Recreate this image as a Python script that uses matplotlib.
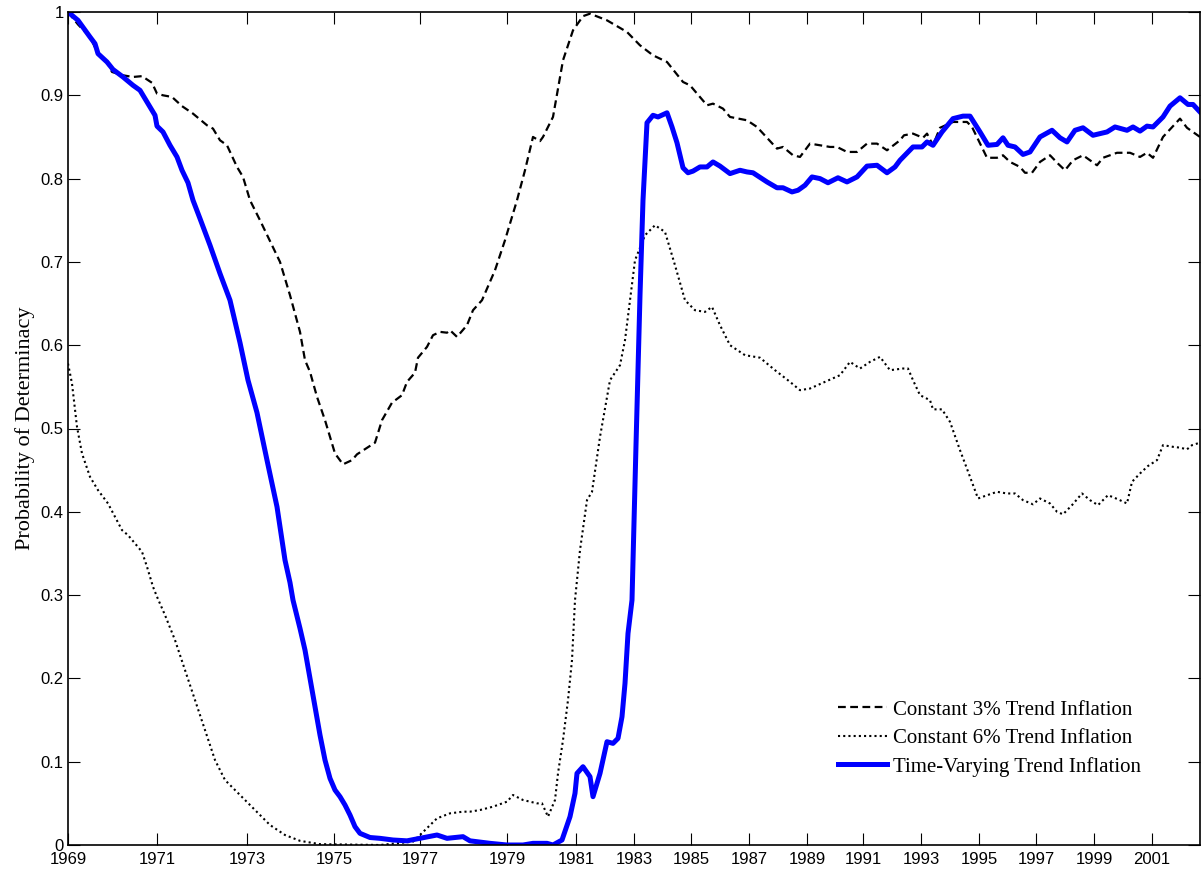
import numpy as np
import matplotlib
matplotlib.use("Agg")
import matplotlib.pyplot as plt

# observation position (sample index scale) and tick labels
tick_pos = [0, 89, 179, 266, 352, 439, 508, 566, 623, 681, 739, 795, 853, 911, 968, 1026, 1084]
tick_labels = ["1969", "1971", "1973", "1975", "1977", "1979", "1981", "1983", "1985",
               "1987", "1989", "1991", "1993", "1995", "1997", "1999", "2001"]
x_max = 1132

# Constant 3% trend inflation (dashed): (observation, probability)
obs_3pct = [
    (0, 1.0), (10, 0.985), (22, 0.97), (30, 0.95), (39, 0.94), (44, 0.928), (55, 0.924),
    (65, 0.922), (74, 0.923), (84, 0.915), (89, 0.902), (95, 0.9), (104, 0.898), (114, 0.887),
    (125, 0.878), (139, 0.864), (145, 0.86), (152, 0.846), (159, 0.84), (169, 0.814),
    (175, 0.802), (182, 0.774), (192, 0.75), (202, 0.725), (212, 0.7), (222, 0.66),
    (232, 0.616), (237, 0.582), (242, 0.568), (249, 0.538), (257, 0.51), (262, 0.49),
    (267, 0.47), (275, 0.457), (284, 0.462), (289, 0.469), (307, 0.483), (314, 0.51),
    (324, 0.531), (334, 0.54), (339, 0.556), (347, 0.567), (350, 0.585), (359, 0.598),
    (365, 0.612), (372, 0.616), (379, 0.615), (382, 0.618), (389, 0.61), (399, 0.624),
    (405, 0.642), (414, 0.654), (427, 0.69), (437, 0.726), (449, 0.774), (457, 0.81),
    (465, 0.85), (472, 0.845), (475, 0.85), (485, 0.874), (495, 0.942), (505, 0.978),
    (515, 0.995), (522, 0.998), (539, 0.99), (559, 0.976), (572, 0.96), (585, 0.948),
    (599, 0.94), (615, 0.916), (622, 0.912), (639, 0.888), (645, 0.89), (655, 0.884),
    (662, 0.874), (679, 0.87), (689, 0.862), (699, 0.849), (709, 0.836), (715, 0.838),
    (725, 0.828), (732, 0.826), (742, 0.842), (752, 0.84), (762, 0.838), (769, 0.838),
    (779, 0.832), (789, 0.832), (799, 0.842), (809, 0.842), (819, 0.834), (832, 0.846),
    (836, 0.852), (845, 0.854), (855, 0.849), (859, 0.854), (865, 0.84), (872, 0.861),
    (885, 0.868), (899, 0.868), (904, 0.862), (919, 0.825), (929, 0.825), (935, 0.828),
    (942, 0.82), (952, 0.814), (957, 0.807), (964, 0.807), (972, 0.82), (982, 0.828),
    (990, 0.818), (997, 0.81), (1005, 0.822), (1015, 0.828), (1029, 0.816), (1035, 0.825),
    (1049, 0.831), (1062, 0.831), (1072, 0.826), (1079, 0.831), (1085, 0.825), (1095, 0.85),
    (1112, 0.872), (1119, 0.861), (1132, 0.85)]

# Constant 6% trend inflation (dotted)
obs_6pct = [
    (0, 0.578), (4, 0.554), (9, 0.502), (14, 0.47), (22, 0.442), (30, 0.426), (40, 0.41),
    (47, 0.394), (54, 0.378), (60, 0.372), (67, 0.362), (74, 0.352), (79, 0.334), (85, 0.31),
    (89, 0.298), (97, 0.276), (107, 0.246), (117, 0.21), (127, 0.174), (137, 0.138),
    (147, 0.102), (157, 0.078), (172, 0.06), (187, 0.042), (202, 0.024), (217, 0.012),
    (232, 0.005), (252, 0.001), (312, 0.0), (345, 0.004), (352, 0.012), (369, 0.032),
    (382, 0.038), (395, 0.04), (402, 0.04), (412, 0.042), (425, 0.046), (439, 0.052),
    (445, 0.06), (455, 0.054), (469, 0.05), (474, 0.05), (480, 0.034), (487, 0.054),
    (490, 0.086), (495, 0.126), (500, 0.174), (504, 0.222), (507, 0.294), (512, 0.354),
    (519, 0.414), (524, 0.424), (532, 0.49), (542, 0.558), (552, 0.576), (557, 0.606),
    (562, 0.654), (567, 0.702), (577, 0.732), (587, 0.744), (597, 0.736), (607, 0.696),
    (617, 0.654), (627, 0.642), (637, 0.64), (644, 0.646), (652, 0.624), (662, 0.6),
    (677, 0.588), (692, 0.585), (707, 0.57), (722, 0.556), (732, 0.546), (742, 0.548),
    (757, 0.556), (772, 0.564), (782, 0.58), (792, 0.572), (802, 0.58), (812, 0.586),
    (822, 0.57), (835, 0.572), (840, 0.572), (845, 0.558), (852, 0.54), (862, 0.534),
    (865, 0.523), (874, 0.523), (882, 0.508), (892, 0.474), (902, 0.442), (910, 0.416),
    (917, 0.419), (929, 0.424), (939, 0.422), (947, 0.422), (955, 0.414), (965, 0.409),
    (972, 0.416), (982, 0.41), (989, 0.4), (995, 0.397), (1004, 0.408), (1014, 0.422),
    (1022, 0.414), (1030, 0.408), (1040, 0.42), (1050, 0.415), (1059, 0.41), (1064, 0.436),
    (1072, 0.446), (1080, 0.455), (1089, 0.462), (1095, 0.48), (1105, 0.478), (1112, 0.477),
    (1119, 0.475), (1124, 0.48), (1132, 0.483)]

# Time-varying trend inflation (solid blue)
obs_tv = [
    (0, 1.0), (10, 0.99), (22, 0.97), (27, 0.962), (30, 0.95), (39, 0.94), (45, 0.931),
    (55, 0.922), (65, 0.912), (72, 0.906), (80, 0.89), (87, 0.876), (89, 0.863), (95, 0.856),
    (102, 0.84), (109, 0.826), (114, 0.81), (120, 0.795), (125, 0.774), (132, 0.752),
    (142, 0.72), (152, 0.686), (162, 0.654), (172, 0.603), (180, 0.558), (189, 0.519),
    (199, 0.462), (209, 0.406), (217, 0.342), (222, 0.315), (225, 0.294), (232, 0.26),
    (237, 0.234), (242, 0.2), (247, 0.166), (252, 0.132), (257, 0.102), (262, 0.08),
    (267, 0.066), (272, 0.058), (277, 0.048), (282, 0.036), (287, 0.022), (292, 0.014),
    (302, 0.009), (312, 0.008), (325, 0.006), (339, 0.005), (352, 0.008), (369, 0.012),
    (379, 0.008), (395, 0.01), (402, 0.005), (422, 0.002), (439, 0.0), (455, 0.0),
    (465, 0.002), (479, 0.002), (485, 0.0), (494, 0.006), (502, 0.034), (507, 0.062),
    (509, 0.086), (515, 0.094), (522, 0.082), (525, 0.058), (532, 0.086), (539, 0.124),
    (545, 0.122), (550, 0.128), (554, 0.154), (557, 0.194), (560, 0.254), (564, 0.294),
    (568, 0.48), (572, 0.66), (575, 0.774), (579, 0.867), (585, 0.876), (590, 0.874),
    (599, 0.879), (604, 0.862), (609, 0.843), (615, 0.813), (620, 0.807), (625, 0.809),
    (632, 0.814), (639, 0.814), (645, 0.82), (652, 0.815), (662, 0.806), (672, 0.81),
    (679, 0.808), (685, 0.807), (699, 0.796), (709, 0.789), (715, 0.789), (724, 0.784),
    (730, 0.786), (737, 0.792), (744, 0.802), (752, 0.8), (760, 0.795), (770, 0.801),
    (779, 0.796), (789, 0.802), (799, 0.815), (809, 0.816), (819, 0.807), (827, 0.814),
    (832, 0.822), (845, 0.838), (854, 0.838), (859, 0.844), (865, 0.84), (874, 0.856),
    (885, 0.872), (895, 0.875), (902, 0.875), (912, 0.856), (920, 0.84), (929, 0.841),
    (935, 0.849), (940, 0.84), (947, 0.838), (955, 0.829), (962, 0.832), (972, 0.85),
    (984, 0.858), (992, 0.849), (999, 0.844), (1007, 0.858), (1015, 0.861), (1025, 0.852),
    (1039, 0.856), (1047, 0.862), (1059, 0.858), (1065, 0.862), (1072, 0.857), (1079, 0.863),
    (1085, 0.862), (1095, 0.874), (1102, 0.887), (1112, 0.897), (1120, 0.889), (1125, 0.889),
    (1132, 0.88)]

labels = ["Constant 3% Trend Inflation", "Constant 6% Trend Inflation",
          "Time-Varying Trend Inflation"]

fig = plt.figure(figsize=(12.01, 8.69), dpi=100)
ax = fig.add_axes([68 / 1201, 1 - 845 / 869, (1200 - 68) / 1201, (845 - 12) / 869])

t3, p3 = np.array(obs_3pct).T
t6, p6 = np.array(obs_6pct).T
tv, pv = np.array(obs_tv).T

ax.plot(t3, p3, color="black", lw=1.6, dashes=(3.5, 2.0), label=labels[0])
ax.plot(t6, p6, color="black", lw=1.5, dashes=(1.0, 1.5), label=labels[1])
ax.plot(tv, pv, color="#0000FF", lw=3.6, label=labels[2], solid_joinstyle="round")

ax.set_xlim(0, x_max)
ax.set_ylim(0, 1)
ax.set_xticks(tick_pos)
ax.set_xticklabels(tick_labels)
ax.set_yticks(np.round(np.arange(0, 1.01, 0.1), 1))
ax.set_yticklabels(["0"] + [f"{v:.1f}" for v in np.arange(0.1, 0.95, 0.1)] + ["1"])

for lab in ax.get_xticklabels() + ax.get_yticklabels():
    lab.set_fontfamily("Liberation Sans")
    lab.set_fontsize(12)

ax.tick_params(direction="in", length=8.5, width=0.8, top=True, right=True, pad=3)
ax.tick_params(axis="x", pad=5)
for s in ax.spines.values():
    s.set_linewidth(1.2)

ax.set_ylabel("Probability of Determinacy", fontfamily="Liberation Serif", fontsize=16,
              labelpad=4)

leg = ax.legend(loc="upper left", bbox_to_anchor=(0.673, 0.184), frameon=False,
                prop={"family": "Liberation Serif", "size": 15}, handlelength=2.35,
                handletextpad=0.3, labelspacing=0.42, borderaxespad=0)

fig.savefig("out.png", dpi=100)
